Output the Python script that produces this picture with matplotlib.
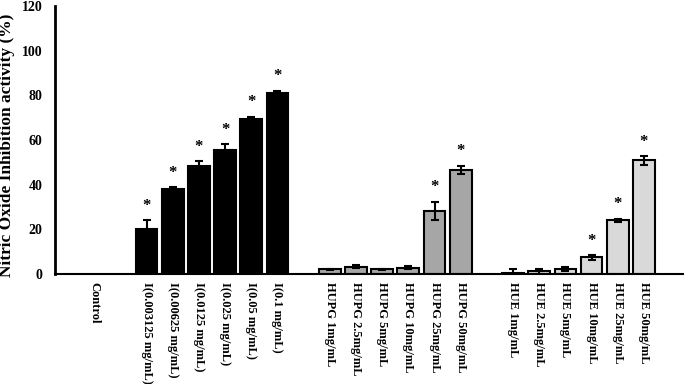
import matplotlib
matplotlib.use("Agg")
import matplotlib.pyplot as plt
import numpy as np

plt.rcParams['font.family'] = ['Liberation Serif', 'DejaVu Serif']
plt.rcParams['font.weight'] = 'bold'

categories = ["", "Control", "",
              "I(0.003125 mg/mL)", "I(0.00625 mg/mL)", "I(0.0125 mg/mL)",
              "I(0.025 mg/mL)", "I(0.05 mg/mL)", "I(0.1 mg/mL)", "",
              "HUPG 1mg/mL", "HUPG 2.5mg/mL", "HUPG 5mg/mL", "HUPG 10mg/mL",
              "HUPG 25mg/mL", "HUPG 50mg/mL", "",
              "HUE 1mg/mL", "HUE 2.5mg/mL", "HUE 5mg/mL", "HUE 10mg/mL",
              "HUE 25mg/mL", "HUE 50mg/mL", ""]

i_vals = [20.1, 37.9, 48.2, 55.7, 69.3, 80.9]
i_err = [4.0, 1.0, 2.5, 2.6, 1.2, 1.3]
hupg_vals = [2.1, 3.3, 2.1, 2.8, 28.3, 46.7]
hupg_err = [0.3, 0.6, 0.1, 0.6, 4.1, 1.9]
hue_vals = [0.6, 1.3, 2.2, 7.4, 24.0, 50.9]
hue_err = [1.8, 1.1, 1.0, 1.1, 0.8, 2.0]
i_sig = [True] * 6
hupg_sig = [False, False, False, False, True, True]
hue_sig = [False, False, False, True, True, True]

fig = plt.figure(figsize=(6.85, 3.84), dpi=100)
ax = fig.add_axes([0.0803, 0.2865, 0.917, 0.6975])

x = np.arange(len(categories))
width = 0.83

groups = [
    (3, i_vals, i_err, i_sig, "black"),
    (10, hupg_vals, hupg_err, hupg_sig, "#a6a6a6"),
    (17, hue_vals, hue_err, hue_sig, "#d9d9d9"),
]
for start, vals, errs, sig, col in groups:
    xs = np.arange(start, start + len(vals))
    ax.bar(xs, vals, width=width, color=col, edgecolor="black", linewidth=1.5,
           yerr=errs, error_kw=dict(ecolor="black", elinewidth=1.5, capsize=3, capthick=1.5),
           zorder=2)
    for xi, v, e, s in zip(xs, vals, errs, sig):
        if s:
            ax.annotate("*", (xi, v + e), xytext=(0, 4.5), textcoords="offset points",
                        ha="center", va="bottom", fontsize=12, fontweight="bold")

ax.set_xlim(-0.5, len(categories) - 0.5)
ax.set_ylim(0, 120)
ax.set_yticks(range(0, 121, 20))
ax.set_xticks(x)
ax.set_xticklabels(categories, rotation=270, ha="center", va="top", fontsize=9, fontweight="bold")
ax.tick_params(axis="x", length=0, pad=6)
ax.tick_params(axis="y", length=0, labelsize=10, pad=9)
for t in ax.get_yticklabels():
    t.set_fontweight("bold")
ax.spines["top"].set_visible(False)
ax.spines["right"].set_visible(False)
ax.spines["left"].set_linewidth(2)
ax.spines["bottom"].set_linewidth(1.5)
ax.set_ylabel("Nitric Oxide Inhibition activity (%)", fontsize=12.5, fontweight="bold")
ax.yaxis.set_label_coords(-0.063, 0.48)

fig.savefig("out.png", dpi=100)
